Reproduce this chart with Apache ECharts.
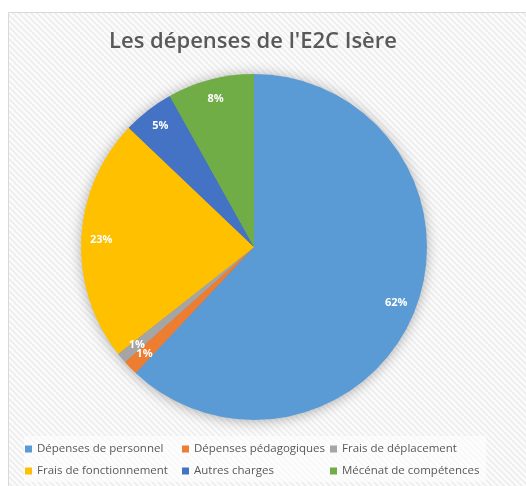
<!DOCTYPE html>
<html>
<head>
<meta charset="utf-8">
<script src="https://cdn.jsdelivr.net/npm/echarts@6/dist/echarts.min.js"></script>
<style>
  html, body { margin: 0; padding: 0; background: #fff; }
  #chart { width: 526px; height: 486px; }
</style>
</head>
<body>
<div id="chart"></div>
<script>
const categories = [
  'Dépenses de personnel',
  'Dépenses pédagogiques',
  'Frais de déplacement',
  'Frais de fonctionnement',
  'Autres charges',
  'Mécénat de compétences',
];
const shares = [62.0, 1.4, 1.0, 22.7, 4.8, 8.1];
const colors = ['#5b9bd5', '#ed7d31', '#a5a5a5', '#ffc000', '#4472c4', '#70ad47'];

// legend columns, as laid out in the original
const legendCols = [
  [categories[0], categories[3]],
  [categories[1], categories[4]],
  [categories[2], categories[5]],
];

function hatch() {
  const c = document.createElement('canvas');
  c.width = 6;
  c.height = 6;
  const ctx = c.getContext('2d');
  ctx.fillStyle = '#fbfbfb';
  ctx.fillRect(0, 0, 6, 6);
  ctx.strokeStyle = '#ececec';
  ctx.lineWidth = 1.5;
  ctx.beginPath();
  ctx.moveTo(-1, -1); ctx.lineTo(7, 7);
  ctx.moveTo(-4, 2); ctx.lineTo(4, 10);
  ctx.moveTo(2, -4); ctx.lineTo(10, 4);
  ctx.stroke();
  return c;
}

const pieData = categories.map((name, i) => ({ name, value: shares[i] }));
const center = [254, 247];
const R = 173;

const chart = echarts.init(document.getElementById('chart'));
chart.setOption({
  animation: false,
  color: colors,
  graphic: [
    {
      type: 'rect',
      z: -10,
      shape: { x: 8.5, y: 12.5, width: 530, height: 480 },
      style: { fill: { image: hatch(), repeat: 'repeat' }, stroke: '#d9d9d9', lineWidth: 1 },
    },
    {
      type: 'rect',
      z: -9,
      shape: { x: 24, y: 436, width: 462, height: 46 },
      style: { fill: 'rgba(255,255,255,0.6)' },
    },
  ],
  title: {
    text: "Les dépenses de l'E2C Isère",
    left: 104,
    top: 26,
    textStyle: {
      fontFamily: '"Open Sans", sans-serif',
      fontWeight: 600,
      fontSize: 22,
      color: '#595959',
    },
  },
  legend: legendCols.map((col, i) => ({
    data: col,
    orient: 'vertical',
    left: [25, 182, 330][i],
    top: 443,
    itemGap: 10,
    itemWidth: 7,
    itemHeight: 7,
    icon: 'rect',
    padding: 0,
    selectedMode: false,
    textStyle: {
      fontFamily: '"Open Sans", sans-serif',
      fontSize: 11.5,
      color: '#595959',
    },
  })),
  series: [
    {
      // soft shadow under the pie
      type: 'pie',
      silent: true,
      z: 1,
      center,
      radius: [0, R - 1],
      startAngle: 90,
      data: pieData,
      label: { show: false },
      labelLine: { show: false },
      itemStyle: { shadowBlur: 14, shadowColor: 'rgba(0,0,0,0.35)', shadowOffsetY: 1 },
    },
    {
      type: 'pie',
      z: 2,
      center,
      radius: [0, R],
      startAngle: 90,
      data: pieData,
      label: { show: false },
      labelLine: { show: false },
      itemStyle: { borderWidth: 0 },
    },
    {
      // labels on a ring near the outer edge
      type: 'pie',
      silent: true,
      z: 3,
      center,
      radius: [R - 46, R + 0],
      startAngle: 90,
      data: pieData,
      avoidLabelOverlap: false,
      labelLayout: { hideOverlap: false },
      itemStyle: { color: 'rgba(0,0,0,0)' },
      labelLine: { show: false },
      label: {
        show: true,
        position: 'inside',
        formatter: (p) => Math.round(p.percent) + '%',
        fontFamily: '"Open Sans", sans-serif',
        fontWeight: 'bold',
        fontSize: 11,
        color: '#ffffff',
      },
    },
  ],
});
</script>
</body>
</html>
